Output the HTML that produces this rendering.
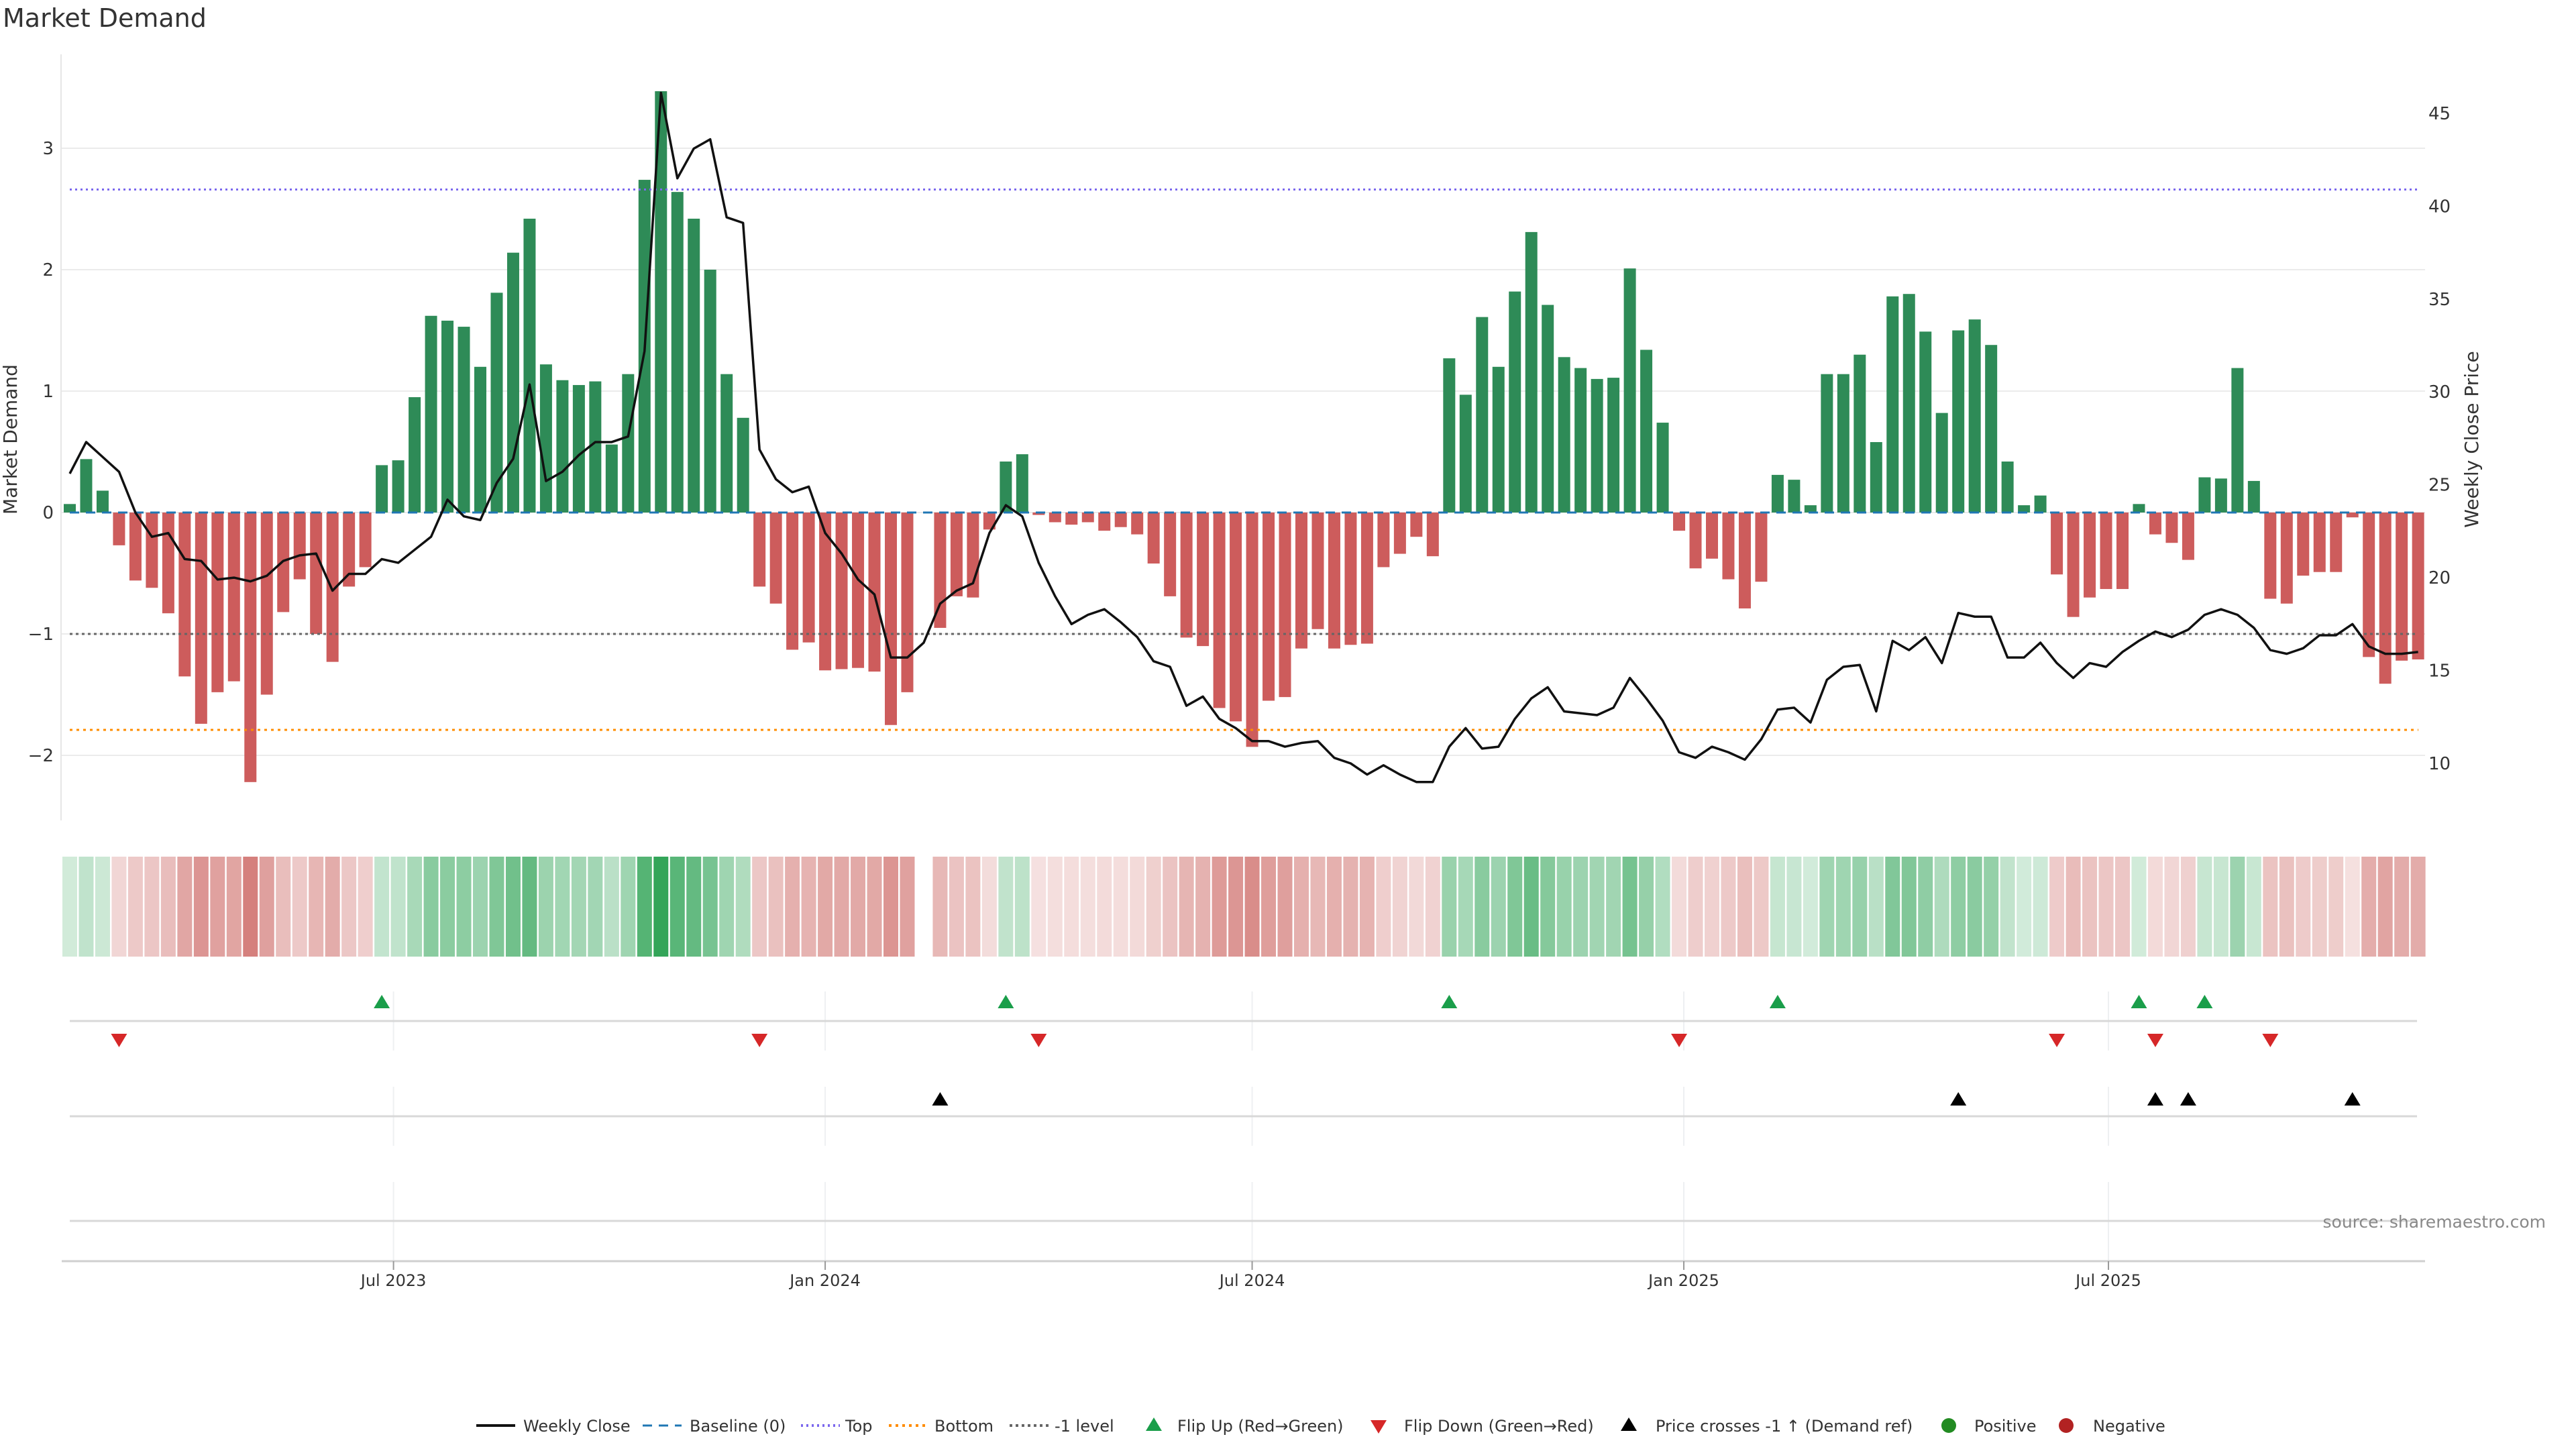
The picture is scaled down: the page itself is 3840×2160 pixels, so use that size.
<!DOCTYPE html>
<html><head><meta charset="utf-8"><title>Market Demand</title>
<style>html,body{margin:0;padding:0;background:#fff}svg{display:block;font-family:"DejaVu Sans","Liberation Sans",sans-serif}</style>
</head><body>
<svg id="chart" width="3840" height="2160" viewBox="0 0 3840 2160" xmlns="http://www.w3.org/2000/svg">
<text x="4" y="40" font-size="38" fill="#333">Market Demand</text>
<g id="g"></g>
</svg>
<script>
const demand = [0.07,0.44,0.18,-0.27,-0.56,-0.62,-0.83,-1.35,-1.74,-1.48,-1.39,-2.22,-1.50,-0.82,-0.55,-1.00,-1.23,-0.61,-0.45,0.39,
0.43,0.95,1.62,1.58,1.53,1.20,1.81,2.14,2.42,1.22,1.09,1.05,1.08,0.56,1.14,2.74,3.47,2.64,2.42,2.00,
1.14,0.78,-0.61,-0.75,-1.13,-1.07,-1.30,-1.29,-1.28,-1.31,-1.75,-1.48,null,-0.95,-0.69,-0.70,-0.14,0.42,0.48,-0.02,
-0.08,-0.10,-0.08,-0.15,-0.12,-0.18,-0.42,-0.69,-1.03,-1.10,-1.61,-1.72,-1.93,-1.55,-1.52,-1.12,-0.96,-1.12,-1.09,-1.08,
-0.45,-0.34,-0.20,-0.36,1.27,0.97,1.61,1.20,1.82,2.31,1.71,1.28,1.19,1.10,1.11,2.01,1.34,0.74,-0.15,-0.46,
-0.38,-0.55,-0.79,-0.57,0.31,0.27,0.06,1.14,1.14,1.30,0.58,1.78,1.80,1.49,0.82,1.50,1.59,1.38,0.42,0.06,
0.14,-0.51,-0.86,-0.70,-0.63,-0.63,0.07,-0.18,-0.25,-0.39,0.29,0.28,1.19,0.26,-0.71,-0.75,-0.52,-0.49,-0.49,-0.04,
-1.19,-1.41,-1.22,-1.21];
const price = [25.6,27.3,26.5,25.7,23.5,22.2,22.4,21.0,20.9,19.9,20.0,19.8,20.1,20.9,21.2,21.3,19.3,20.2,20.2,21.0,
20.8,21.5,22.2,24.2,23.3,23.1,25.1,26.4,30.4,25.2,25.7,26.6,27.3,27.3,27.6,32.2,46.1,41.5,43.1,43.6,
39.4,39.1,26.9,25.3,24.6,24.9,22.4,21.3,19.9,19.1,15.7,15.7,16.5,18.6,19.3,19.7,22.4,23.9,23.3,20.8,
19.0,17.5,18.0,18.3,17.6,16.8,15.5,15.2,13.1,13.6,12.4,11.9,11.2,11.2,10.9,11.1,11.2,10.3,10.0,9.4,
9.9,9.4,9.0,9.0,10.9,11.9,10.8,10.9,12.4,13.5,14.1,12.8,12.7,12.6,13.0,14.6,13.5,12.3,10.6,10.3,
10.9,10.6,10.2,11.3,12.9,13.0,12.2,14.5,15.2,15.3,12.8,16.6,16.1,16.8,15.4,18.1,17.9,17.9,15.7,15.7,
16.5,15.4,14.6,15.4,15.2,16.0,16.6,17.1,16.8,17.2,18.0,18.3,18.0,17.3,16.1,15.9,16.2,16.9,16.9,17.5,
16.3,15.9,15.9,16.0];
const startDate = "2023-02-13";
const tickDates = ["2023-07-01","2024-01-01","2024-07-01","2025-01-01","2025-07-01"];
const tickLabels = ["Jul 2023","Jan 2024","Jul 2024","Jan 2025","Jul 2025"];
const leftTicks = [-2,-1,0,1,2,3];
const rightTicks = [10,15,20,25,30,35,40,45];
const levels = {top:2.66, bottom:-1.79, ref:-1};

const NS="http://www.w3.org/2000/svg";
const g=document.getElementById('g');
function mk(tag,attrs,parent){const e=document.createElementNS(NS,tag);for(const k in attrs)e.setAttribute(k,attrs[k]);(parent||g).appendChild(e);return e;}
const DAY=86400000, t0=Date.parse(startDate);
const WEEKPX=24.48, X0=104;
function xDate(s){return X0+(Date.parse(s)-t0)/DAY/7*WEEKPX;}
function xi(i){return X0+i*WEEKPX;}
function yL(v){return 764-v*181;}
function yR(p){return 1138-(p-10)*27.69;}
const L=91,R=3615;

leftTicks.forEach(v=>{
  const ln=mk('line',{x1:L,x2:R,y1:yL(v),y2:yL(v),stroke:'#ebebeb','stroke-width':2});
  
  
  const t=mk('text',{x:80,y:yL(v)+9,'font-size':26,fill:'#333','text-anchor':'end'});
  t.textContent=(v<0?'\u2212':'')+Math.abs(v);
  
  
});
rightTicks.forEach(p=>{
  const t=mk('text',{x:3620,y:yR(p)+9,'font-size':26,fill:'#333'});
  t.textContent=p;
  
  
});
const sp=mk('line',{x1:L,x2:L,y1:81,y2:1223,stroke:'#e6e6e6','stroke-width':2});


let yt=mk('text',{x:0,y:0,'font-size':28,fill:'#333','text-anchor':'middle',transform:'translate(25,655) rotate(-90)'});
yt.textContent='Market Demand';


yt=mk('text',{x:0,y:0,'font-size':28,fill:'#333','text-anchor':'middle',transform:'translate(3694,655) rotate(-90)'});
yt.textContent='Weekly Close Price';



const BW=18;
demand.forEach((v,i)=>{
  if(v===null)return;
  const y0=yL(0),y1=yL(v);
  const r=mk('rect',{x:xi(i)-BW/2,y:Math.min(y0,y1),width:BW,height:Math.max(1,Math.abs(y1-y0)),fill:v>=0?'#2e8b57':'#cd5c5c'});
  
  
});
function hline(v,color,dash,name){
  const l=mk('line',{x1:104,x2:3605,y1:yL(v),y2:yL(v),stroke:color,'stroke-width':3,'stroke-dasharray':dash});
  
  
}
hline(0,'#1f77b4','14 10','baseline-line');
hline(levels.top,'#7b68ee','3 5','top-level-line');
hline(levels.bottom,'#ff8c00','4 6','bottom-level-line');
hline(levels.ref,'#666','4 5','minus-one-level-line');
const pl=mk('polyline',{points:price.map((p,i)=>xi(i)+','+yR(p)).join(' '),fill:'none',stroke:'#111','stroke-width':3.5,'stroke-linejoin':'round'});



const maxPos=Math.max(...demand.filter(v=>v!==null));
const maxNeg=Math.abs(Math.min(...demand.filter(v=>v!==null)));
demand.forEach((v,i)=>{
  if(v===null)return;
  let fill,op;
  if(v>=0){fill='rgb(40,160,80)';op=0.2+0.75*v/maxPos;}
  else{fill='rgb(190,60,55)';op=0.15+0.5*(-v)/maxNeg;}
  const r=mk('rect',{x:xi(i)-11,y:1277,width:22,height:149,fill:fill,'fill-opacity':op.toFixed(3)});
  
  
});

tickDates.forEach(d=>{
  const x=xDate(d);
  [[1478,1566],[1620,1708],[1762,1880]].forEach(s=>{
    const l=mk('line',{x1:x,x2:x,y1:s[0],y2:s[1],stroke:'#eef0f2','stroke-width':2});
    
    
  });
});
[1522,1664,1820].forEach(y=>{
  const l=mk('line',{x1:104,x2:3603,y1:y,y2:y,stroke:'#d8d8d8','stroke-width':3});
  
  
});
const ax=mk('line',{x1:92,x2:R,y1:1880,y2:1880,stroke:'#cfcfcf','stroke-width':3});


tickDates.forEach((d,k)=>{
  const x=xDate(d);
  const tk=mk('line',{x1:x,x2:x,y1:1880,y2:1893,stroke:'#999','stroke-width':2});
  
  
  const t=mk('text',{x:x,y:1917,'font-size':24,fill:'#333','text-anchor':'middle'});
  t.textContent=tickLabels[k];
  
  
});

function tri(x,y,up,color,name){
  const h=10,w=12;
  const pts=up?`${x-w},${y+h} ${x+w},${y+h} ${x},${y-h}`:`${x-w},${y-h} ${x+w},${y-h} ${x},${y+h}`;
  const p=mk('polygon',{points:pts,fill:color});
  
  
}
const refPrice=10+(1138-yL(levels.ref))/27.69;
for(let i=1;i<demand.length;i++){
  const a=demand[i-1],b=demand[i];
  if(a!==null&&b!==null){
    if(a<0&&b>=0)tri(xi(i),1493,true,'#1a9e4a','flip-up-marker');
    if(a>=0&&b<0)tri(xi(i),1551,false,'#d62728','flip-down-marker');
  }
  if(price[i-1]<refPrice&&price[i]>=refPrice)tri(xi(i),1638,true,'#000','price-cross-marker');
}

const src=mk('text',{x:3795,y:1830,'font-size':25,fill:'#888','text-anchor':'end'});
src.textContent='source: sharemaestro.com';



const LY=2125;
const lg=mk('g',{});


function ltext(x,s){const t=mk('text',{x:x,y:LY+9,'font-size':24,fill:'#333'},lg);t.textContent=s;}
function lline(x,color,dash,w){const l=mk('line',{x1:x,x2:x+58,y1:LY,y2:LY,stroke:color,'stroke-width':w,'stroke-dasharray':dash},lg);}
lline(710,'#111','',4);ltext(780,'Weekly Close');
lline(958,'#1f77b4','14 10',3);ltext(1028,'Baseline (0)');
lline(1194,'#7b68ee','3 5',4);ltext(1260,'Top');
lline(1325,'#ff8c00','4 6',4);ltext(1393,'Bottom');
lline(1505,'#666','4 5',4);ltext(1572,'-1 level');
tri(1720,LY-2,true,'#1a9e4a','legend-flip-up-swatch');ltext(1755,'Flip Up (Red\u2192Green)');
tri(2055,LY+2,false,'#d62728','legend-flip-down-swatch');ltext(2093,'Flip Down (Green\u2192Red)');
tri(2428,LY-2,true,'#000','legend-price-cross-swatch');ltext(2468,'Price crosses -1 \u2191 (Demand ref)');
let c=mk('circle',{cx:2905,cy:LY,r:11,fill:'#228b22'},lg);
ltext(2943,'Positive');
c=mk('circle',{cx:3080,cy:LY,r:11,fill:'#b22222'},lg);
ltext(3120,'Negative');
</script>
</body></html>
